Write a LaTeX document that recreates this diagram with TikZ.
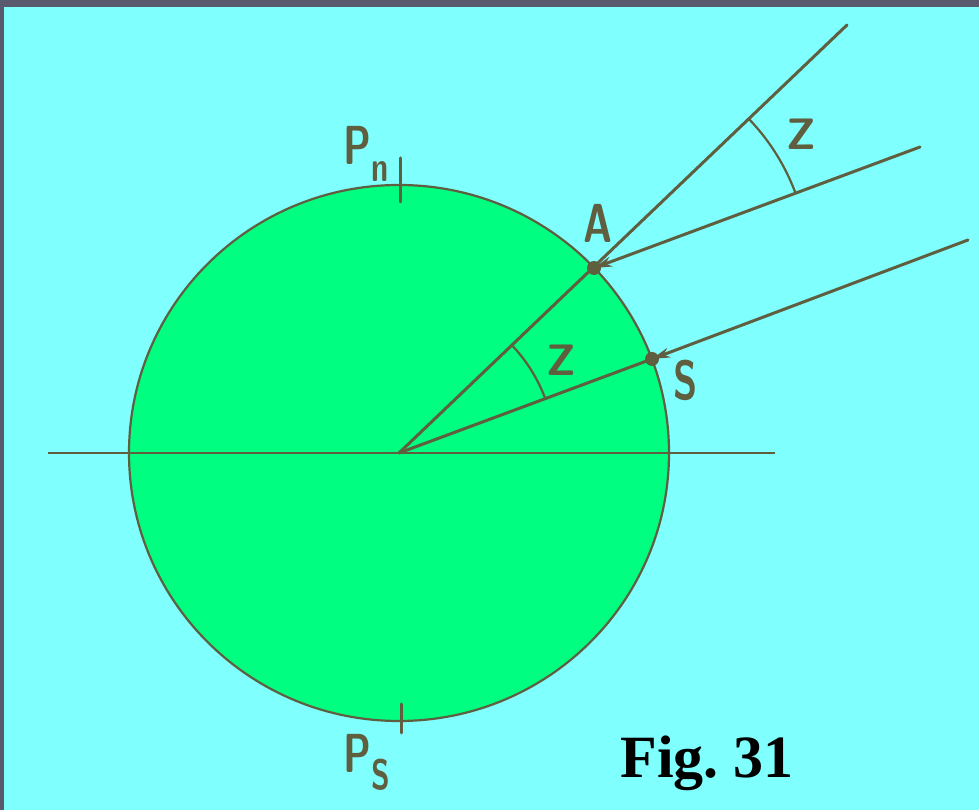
\documentclass[tikz,border=0pt]{standalone}
\usepackage{fontspec}
\newfontfamily\figfont{Liberation Serif}
\usetikzlibrary{arrows.meta}
\definecolor{bgcyan}{HTML}{80FFFF}
\definecolor{disc}{HTML}{00FF80}
\definecolor{ink}{HTML}{5F5F3F}
\definecolor{frame}{HTML}{5A5A6E}
\newcommand{\tallbox}[1]{\scalebox{0.9}[1.25]{#1}}
\tikzset{
  ln/.style={draw=ink, line width=3pt, line cap=round},
  thin ln/.style={draw=ink, line width=2.2pt},
  lbl/.style={text=ink, font=\sffamily\bfseries\fontsize{44}{44}\selectfont, inner sep=0pt},
  zlbl/.style={text=ink, font=\sffamily\bfseries\fontsize{44}{44}\selectfont, inner sep=0pt},
  ray/.style={ln, -{Stealth[length=18pt,width=10pt]}},
}
\begin{document}
\begin{tikzpicture}[x=1pt,y=1pt]
\useasboundingbox (0,0) rectangle (979,810);
\fill[frame] (0,0) rectangle (979,810);
\fill[bgcyan] (4,0) rectangle (979,803);
% disc
\fill[disc] (399,357) ellipse [x radius=270, y radius=268];
\draw[thin ln] (399,357) ellipse [x radius=270, y radius=268];
% key points
\coordinate (O) at (399,357);
\coordinate (A) at (594,542);
\coordinate (S) at (652,451);
\coordinate (E1) at (847,785);
\coordinate (E2) at (968,570);
\coordinate (E3) at (920,663);
\coordinate (HL) at (48,357);
\coordinate (HR) at (775,357);
\coordinate (T1) at (400,652);
\coordinate (T2) at (400,608);
\coordinate (B1) at (401,106);
\coordinate (B2) at (401,77);
% lines
\draw[thin ln] (HL) -- (HR);
\draw[ln] (T1) -- (T2);
\draw[ln] (B1) -- (B2);
\draw[ln] (O) -- (E1);
\draw[ln] (O) -- (S);
\draw[ray] (E2) -- (S);
\draw[ray] (E3) -- (A);
% dots
\fill[ink] (A) circle (7);
\fill[ink] (S) circle (7);
% angle arcs
\draw[thin ln] (545,412) arc[start angle=20.6, end angle=43.8, radius=156];
\draw[thin ln] (795.2,617.6) arc[start angle=20.6, end angle=43.8, radius=215];
% labels
\node[lbl] (lA) at (598,587) {\tallbox{A}};
\node[lbl] (lS) at (686,430) {\tallbox{S}};
\node[zlbl] (z1) at (561,450) {Z};
\node[zlbl] (z2) at (801,676) {Z};
\node[lbl, anchor=base west] (pn) at (343,645) {\tallbox{P\raisebox{-0.3em}{\fontsize{34}{34}\selectfont n}}};
\node[lbl, anchor=base west] (ps) at (343,37) {\tallbox{P\raisebox{-0.3em}{\fontsize{34}{34}\selectfont S}}};
\node[text=black, font=\figfont\bfseries\fontsize{60}{60}\selectfont, inner sep=0pt, anchor=base] (fig) at (707,32) {Fig.\ 31};
\end{tikzpicture}
\end{document}
